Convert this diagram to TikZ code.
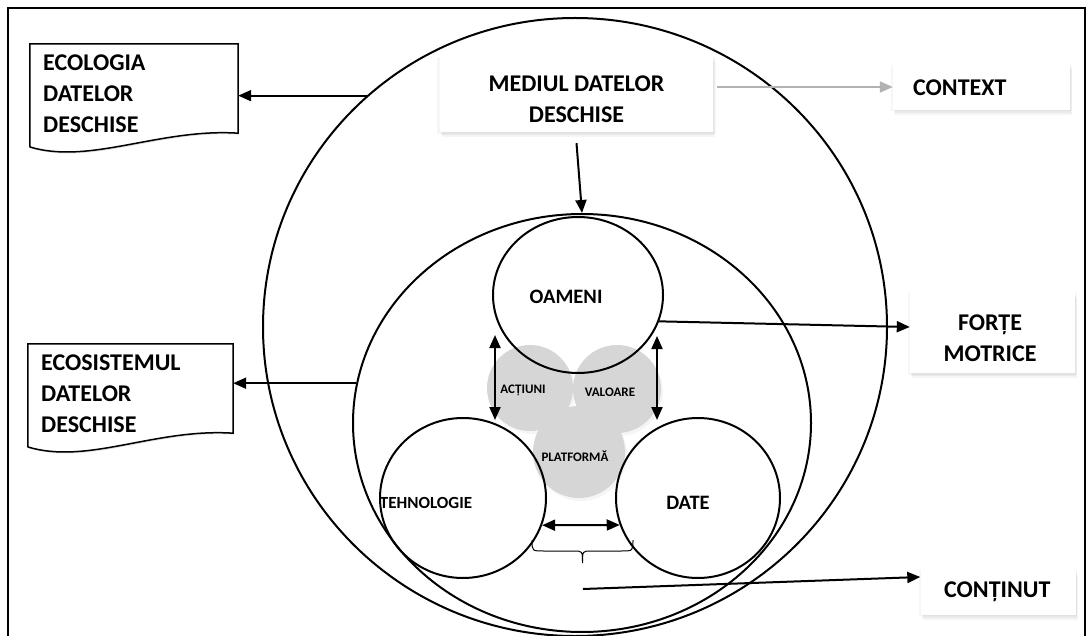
\documentclass[tikz,border=0pt]{standalone}
\usepackage{fontspec}
\setmainfont{Carlito}
\usetikzlibrary{arrows.meta,shadows,shapes.geometric}
\begin{document}
\begin{tikzpicture}[x=1pt,y=-1pt,
  big/.style={font=\bfseries\fontsize{24}{31}\selectfont},
  mid/.style={font=\bfseries\fontsize{20.5}{24}\selectfont},
  small/.style={font=\bfseries\fontsize{13}{15}\selectfont, inner sep=0pt},
  ring/.style={draw, ellipse, line width=2pt, inner sep=0pt},
  arr/.style={line width=2pt, -{Triangle[length=13pt,width=11pt]}},
  dbl/.style={line width=2pt, {Triangle[length=13pt,width=11pt]}-{Triangle[length=13pt,width=11pt]}},
  shbox/.style={draw=none, fill=white, inner sep=0pt,
    drop shadow={opacity=0.07, shadow xshift=0pt, shadow yshift=-1pt, shadow scale=1.02},
    drop shadow={opacity=0.10, shadow xshift=1pt, shadow yshift=-3pt},
    drop shadow={opacity=0.08, shadow xshift=2pt, shadow yshift=-5pt}},
  graycirc/.style={circle, fill=gray!32, inner sep=0pt,
    drop shadow={opacity=0.08, shadow xshift=2pt, shadow yshift=-3pt}},
  docbox/.style={draw=none, inner sep=0pt},
  docline/.style={line width=1.5pt, fill=white, drop shadow={opacity=0.25, shadow xshift=1pt, shadow yshift=-1.5pt}},
  bracestyle/.style={line width=1pt}
]
\useasboundingbox (0,0) rectangle (1089,636);
% frame
\draw[line width=2pt] (8,650) -- (8,8) -- (1085,8) -- (1085,650);

% big circles
\node[ring, minimum width=624pt, minimum height=618pt] (outer) at (575,327) {};
\node[ring, minimum width=458pt, minimum height=418pt] (middle) at (582,423) {};

% gray circles
\node[graycirc, minimum size=86pt] (act) at (530,388) {};
\node[graycirc, minimum size=88pt] (val) at (617,389) {};
\node[graycirc, minimum size=92pt] (plat) at (579,452) {};
\node[small] (acttxt) at (523,390) {ACȚIUNI};
\node[small] (valtxt) at (610,392) {VALOARE};
\node[small] (plattxt) at (575,456) {PLATFORMĂ};

% inner circles
\node[ring, minimum width=170pt, minimum height=156pt] (oam) at (578,295) {};
\node[mid] (oamtxt) at (566,297) {OAMENI};
\node[ring, minimum width=166pt, minimum height=160pt] (teh) at (463,498) {};
\node[font=\bfseries\fontsize{17}{20}\selectfont] (tehtxt) at (426,503) {TEHNOLOGIE};
\node[ring, minimum width=164pt, minimum height=160pt] (date) at (698,498) {};
\node[mid] (datetxt) at (688,503) {DATE};

% documents
\node[docbox, minimum width=208pt, minimum height=89pt] (ecolbox) at (134,88.5) {};
\draw[docline] (ecolbox.north west) -- (ecolbox.north east) -- (ecolbox.south east)
  .. controls (160,128) and (90,165) .. (30,147) -- cycle;
\node[big, align=left, anchor=north west, inner sep=0pt, text width=190pt] (ecol) at (43,55) {ECOLOGIA\\DATELOR\\DESCHISE};

\node[docbox, minimum width=205pt, minimum height=89pt] (ecosbox) at (130.5,388.5) {};
\draw[docline] (ecosbox.north west) -- (ecosbox.north east) -- (ecosbox.south east)
  .. controls (155,428) and (88,465) .. (28,447) -- cycle;
\node[big, align=left, anchor=north west, inner sep=0pt, text width=190pt] (ecos) at (41,355) {ECOSISTEMUL\\DATELOR\\DESCHISE};

% boxes
\node[shbox, minimum width=273pt, minimum height=75pt] (medium) at (576.5,94.5) {};
\node[big, align=center, inner sep=0pt] (mediumtxt) at (576.5,99) {MEDIUL DATELOR\\DESCHISE};
\node[shbox, minimum width=177pt, minimum height=46pt] (context) at (981.5,87) {};
\node[big, anchor=west, inner sep=0pt] (contexttxt) at (913,88) {CONTEXT};
\node[shbox, minimum width=165pt, minimum height=80pt] (forte) at (992.5,333) {};
\node[big, align=center, inner sep=0pt] (fortetxt) at (990,338) {FORȚE\\MOTRICE};
\node[shbox, minimum width=155pt, minimum height=45pt] (cont) at (998,592) {};
\node[big, anchor=west, inner sep=0pt] (conttxt) at (944,592) {CONȚINUT};

% arrows
\draw[arr] (outer.132.8) -- (outer.132.8 -| ecolbox.east);
\draw[arr] (middle.170.5) -- (middle.170.5 -| ecosbox.east);
\draw[arr] ([yshift=-11pt]medium.south) -- (middle.north);
\draw[line width=2pt, gray!60, -{Triangle[length=13pt,width=11pt]}] ([xshift=4pt,yshift=7.5pt]medium.east) -- (context.west);
\draw[arr] (oam.-18.6) -- ([yshift=6pt]forte.west);
\draw[dbl] (495,335) -- (495,420);
\draw[dbl] (657,336) -- (657,420);
\draw[dbl] (teh.-19) -- (date.199);
% brace
\coordinate (bl) at (532,540);
\coordinate (br) at (633,540);
\coordinate (btip) at (582.5,563);
\draw[bracestyle] (bl) .. controls (532,551) .. (544,551) -- (574,551)
  .. controls (582.5,551) .. (btip) .. controls (582.5,551) .. (591,551) -- (621,551)
  .. controls (633,551) .. (br);
\coordinate (cstart) at (583,589);
\draw[arr] (cstart) -- ([yshift=15pt]cont.west);
\end{tikzpicture}
\end{document}
